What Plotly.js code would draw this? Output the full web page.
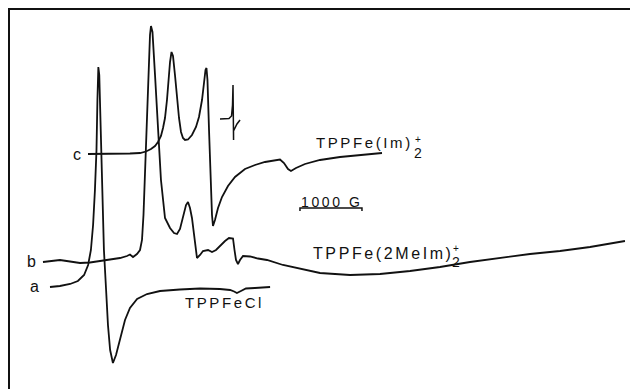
<!DOCTYPE html>
<html>
<head>
<meta charset="utf-8">
<script src="https://cdn.plot.ly/plotly-3.0.1.min.js"></script>
<style>
html,body{margin:0;padding:0;background:#fff;}
#chart{width:630px;height:389px;}
.annotation-text{letter-spacing:2.6px;}
</style>
</head>
<body>
<div id="chart"></div>
<script>
// Magnetic field (G) and derivative signal (arbitrary units)
const fieldA = [645,805,970,1095,1195,1260,1305,1340,1370,1395,1410,1425,1440,1460,1485,1515,1550,1580,1615,1660,1710,1775,1855,1935,2050,2210,2420,2740,3065,3385,3550,3615,3660,3725,3805,3950,4195];
const signalA = [102,103,105,108,114,124,139,164,199,239,289,322,314,259,199,139,99,64,39,26,34,51,69,81,90,95,98,99.5,100.5,100,99,97.5,96,98,100.5,101,102];

const fieldB = [532,645,806,968,1129,1290,1452,1613,1774,1887,1935,1984,2048,2097,2129,2153,2177,2202,2226,2258,2274,2298,2339,2387,2435,2500,2581,2645,2694,2742,2790,2839,2871,2903,2935,2976,3016,3065,3113,3194,3258,3323,3387,3468,3532,3597,3621,3645,3677,3710,3758,3871,4000,4145,4403,4677,5000,5484,5968,6452,6935,7419,7903,8387,8871,9355,9919];
const signalB = [127,128,129,127.5,126,126.5,128,129.5,131,133,134.5,132,135,139,149,174,219,269,314,354,363,357,314,259,209,171,161,156,155,160,171,184,187,181,171,149,131,134,138,139,137,139,143,148,151,150.5,139,129,125,129,133,132.5,130.5,129,124,120,116,114,115,118,122,127,131,135,138,142,148];

const fieldC = [1258,1452,1694,1935,2097,2194,2274,2339,2387,2435,2468,2500,2532,2556,2581,2605,2629,2661,2694,2726,2758,2790,2823,2871,2935,3000,3048,3097,3129,3153,3169,3185,3210,3234,3258,3274,3306,3355,3419,3516,3629,3790,3952,4113,4274,4355,4419,4484,4532,4613,4758,5000,5323,5645,6000];
const signalC = [235,235,235,235.5,236,237.5,240,243,247,253,261,271,289,309,327,337,333,314,291,271,257,251,249,249.5,254,262,272,289,306,319,321,309,259,209,174,163,169,181,192,203,212,220,224,227,229,229.5,226,220,218,221,225,229,232,234,236];

// field marker drawn above spectrum c
const fieldMarker = [3387,3532,3573,3589,3597,3602,3606,3605,3661,3710];
const signalMarker = [270,270.5,273,284,304,279,249,258,265,269];

// 1000 G scale bar
const scaleStart = [4677];
const scaleLength = [1000];
const scaleLevel = [181];

const ink = '#111';
const lineStyle = {color: ink, width: 1.8, shape: 'linear'};

const traces = [
  {x: fieldA, y: signalA, mode: 'lines', line: lineStyle, name: 'a TPPFeCl', hoverinfo: 'skip'},
  {x: fieldB, y: signalB, mode: 'lines', line: lineStyle, name: 'b TPPFe(2MeIm)2+', hoverinfo: 'skip'},
  {x: fieldC, y: signalC, mode: 'lines', line: lineStyle, name: 'c TPPFe(Im)2+', hoverinfo: 'skip'},
  {x: fieldMarker, y: signalMarker, mode: 'lines', line: {color: ink, width: 1.5}, name: 'marker', hoverinfo: 'skip'},
  {x: [scaleStart[0], scaleStart[0], scaleStart[0] + scaleLength[0], scaleStart[0] + scaleLength[0]],
   y: [scaleLevel[0] - 3, scaleLevel[0], scaleLevel[0], scaleLevel[0] - 3],
   mode: 'lines', line: {color: ink, width: 1.5}, name: 'scale', hoverinfo: 'skip'}
];

// paper position helper from pixel location in the 630x389 frame
function P(px, py) { return {x: (px - 10) / 620, y: (389 - py) / 379}; }
const fam = 'Liberation Sans, DejaVu Sans, sans-serif';
function ann(text, px, py, size, anchor) {
  const p = P(px, py);
  return {text: text, x: p.x, y: p.y, xref: 'paper', yref: 'paper', showarrow: false,
          xanchor: anchor || 'center', yanchor: 'middle', borderpad: 0,
          font: {family: fam, size: size, color: ink}};
}

const annotations = [
  ann('c', 78, 154, 16),
  ann('b', 33, 261, 16),
  ann('a', 36, 286, 16),
  ann('TPPFe(Im)', 315, 142, 15, 'left'),
  ann('2', 419, 153, 14),
  ann('+', 419, 139, 10),
  ann('1000 G', 332, 202, 14),
  ann('TPPFe(2MeIm)', 312, 253, 16, 'left'),
  ann('2', 457, 262, 14),
  ann('+', 457, 248, 10),
  ann('TPPFeCl', 184, 302, 15, 'left')
];

const layout = {
  width: 630, height: 389,
  margin: {l: 10, r: 0, t: 10, b: 0, pad: 0},
  paper_bgcolor: '#fff', plot_bgcolor: '#fff',
  showlegend: false,
  xaxis: {range: [0, 10000], side: 'top', showline: true, linecolor: ink, linewidth: 1.8,
          showgrid: false, zeroline: false, showticklabels: false, ticks: '', fixedrange: true},
  yaxis: {range: [0, 379], showline: true, linecolor: ink, linewidth: 1.8,
          showgrid: false, zeroline: false, showticklabels: false, ticks: '', fixedrange: true},
  annotations: annotations
};

Plotly.newPlot('chart', traces, layout, {staticPlot: true, displayModeBar: false});
</script>
</body>
</html>
